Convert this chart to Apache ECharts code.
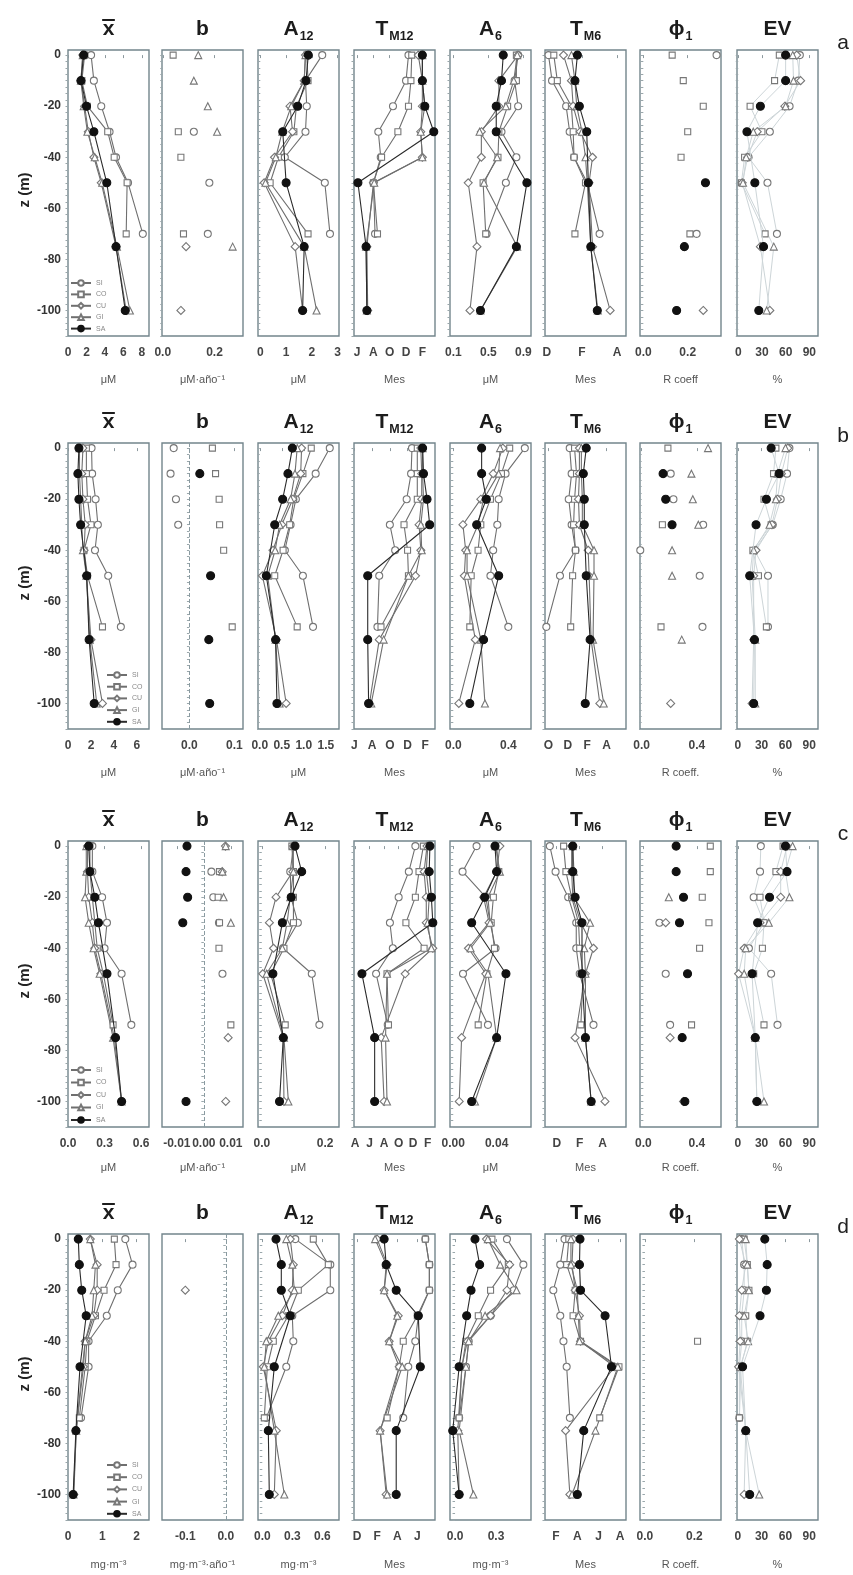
<!DOCTYPE html>
<html><head><meta charset="utf-8">
<script src="https://cdn.jsdelivr.net/npm/echarts@6/dist/echarts.min.js"></script>
<style>html,body{margin:0;padding:0;background:#fff}#c{width:853px;height:1575px}</style>
</head><body><div id="c"></div>
<script>
// ---------------- DATA ----------------
const STATIONS = ['SI','CO','CU','GI','SA'];
const DEPTH = {
  SI:[0,-10,-20,-30,-40,-50,-70],
  CO:[0,-10,-20,-30,-40,-50,-70],
  CU:[0,-10,-20,-30,-40,-50,-75,-100],
  GI:[0,-10,-20,-30,-40,-50,-75,-100],
  SA:[0,-10,-20,-30,-50,-75,-100]
};
const N = null;
// Row a
const a_xbar = {SI:[2.5,2.8,3.6,4.5,5.2,6.5,8.1], CO:[1.8,1.5,2.1,4.3,5.0,6.4,6.3], CU:[1.6,1.4,1.8,2.2,2.8,3.6,5.2,6.3], GI:[1.6,1.4,1.7,2.1,2.9,3.7,5.3,6.7], SA:[1.7,1.4,2.0,2.8,4.2,5.2,6.2]};
const a_b = {SI:[N,N,N,0.12,N,0.18,0.174], CO:[0.04,N,N,0.06,0.07,N,0.08], CU:[N,N,N,N,N,N,0.09,0.07], GI:[0.137,0.12,0.174,0.21,N,N,0.27,N], SA:[N,N,N,N,N,N,N]};
const a_A12 = {SI:[2.4,1.75,1.8,1.75,0.95,2.5,2.7], CO:[1.8,1.85,1.4,1.3,0.7,0.38,1.85], CU:[1.75,1.7,1.15,1.25,0.55,0.15,1.35,1.64], GI:[1.75,1.7,1.2,0.85,0.6,0.2,1.7,2.18], SA:[1.86,1.77,1.45,0.87,1.0,1.7,1.64]};
const a_TM12 = {SI:[12.3,12,10.4,8.6,8.9,8,8.2], CO:[12.7,12.6,12.3,11,9,8,8.5], CU:[13.5,14,14,13.8,14,8,7.2,7.3], GI:[14,14,14.3,13.8,14,8.1,7.1,7.2], SA:[14,14,14.3,15.4,6.1,7.1,7.2]};
const a_A6 = {SI:[0.84,0.8,0.84,0.65,0.82,0.7,0.48], CO:[0.82,0.82,0.72,0.62,0.61,0.44,0.47], CU:[0.84,0.62,0.62,0.42,0.42,0.27,0.37,0.29], GI:[0.83,0.79,0.7,0.4,0.6,0.45,0.83,0.41], SA:[0.67,0.65,0.59,0.59,0.94,0.82,0.41]};
const a_TM6 = {SI:[12.1,12.3,13.1,13.3,13.55,14.3,15.0], CO:[12.4,12.6,13.4,13.5,13.55,14.2,13.6], CU:[12.95,13.4,13.5,13.9,14.6,14.4,14.6,15.6], GI:[13.4,13.6,13.7,14.0,14.2,14.3,14.5,14.9], SA:[13.74,13.6,13.85,14.27,14.36,14.5,14.87]};
const a_phi = {SI:[0.33,N,N,N,N,N,0.24], CO:[0.13,0.18,0.27,0.2,0.17,N,0.21], CU:[N,N,N,N,N,N,N,0.27], GI:[N,N,N,N,N,N,N,N], SA:[N,N,N,N,0.28,0.185,0.15]};
const a_EV = {SI:[78,76,65,40,13,37,49], CO:[52,46,15,30,8,4,34], CU:[74,79,59,24,12,5,28,40], GI:[69,70,60,19,10,6,45,36], SA:[60,60,28,11,21,32,26]};
// Row b
const b_xbar = {SI:[2.05,2.1,2.4,2.6,2.35,3.5,4.6], CO:[1.6,1.6,1.7,2.0,1.4,1.7,3.0], CU:[1.3,1.2,1.3,1.5,1.4,1.6,2.0,3.0], GI:[1.0,1.0,1.1,1.2,1.3,1.6,1.9,2.5], SA:[0.95,0.86,0.95,1.1,1.63,1.84,2.28]};
const b_b = {SI:[-0.035,-0.042,-0.03,-0.025,N,N,N], CO:[0.051,0.058,0.066,0.067,0.076,N,0.095], CU:[N,N,N,N,N,N,N,N], GI:[N,N,N,N,N,N,N,N], SA:[N,0.023,N,N,0.047,0.043,0.045]};
const b_A12 = {SI:[1.59,1.27,0.82,0.7,0.57,0.98,1.21], CO:[1.17,0.98,0.77,0.68,0.53,0.34,0.85], CU:[0.95,0.93,0.75,0.5,0.3,0.06,0.38,0.6], GI:[0.85,0.8,0.7,0.45,0.35,0.18,0.36,0.45], SA:[0.74,0.64,0.52,0.34,0.15,0.36,0.39]};
const b_TM12 = {SI:[12.5,12.4,11.9,10,10.6,8.8,8.6], CO:[13.1,13.1,13.1,11.6,12.0,12.1,9.0], CU:[13.5,13.6,13.6,13.3,13.5,12.9,8.8,7.7], GI:[13.7,13.7,13.8,13.5,13.6,12.1,9.3,7.9], SA:[13.7,13.8,14.2,14.5,7.5,7.5,7.6]};
const b_A6 = {SI:[0.52,0.38,0.33,0.32,0.29,0.27,0.4], CO:[0.41,0.35,0.27,0.2,0.18,0.13,0.12], CU:[0.36,0.29,0.2,0.07,0.09,0.08,0.16,0.04], GI:[0.34,0.33,0.22,0.18,0.1,0.1,0.2,0.23], SA:[0.206,0.206,0.24,0.17,0.33,0.22,0.12]};
const b_TM6 = {SI:[12.2,12.4,12.1,12.4,12.8,11.2,9.8], CO:[12.7,12.9,12.7,12.6,12.8,12.5,12.3], CU:[13.2,13.2,13.1,13.2,14.1,14.2,14.4,15.3], GI:[13.4,13.4,13.5,13.5,14.7,14.7,14.6,15.7], SA:[13.9,13.6,13.7,13.7,13.9,14.3,13.8]};
const b_phi = {SI:[N,0.21,0.23,0.445,-0.01,0.42,0.44], CO:[0.19,N,N,0.15,N,N,0.14], CU:[N,N,N,N,N,N,N,0.21], GI:[0.48,0.36,0.37,0.41,0.22,0.22,0.29,N], SA:[N,0.155,0.174,0.22,N,N,N]};
const b_EV = {SI:[65,62,54,44,21,38,38], CO:[48,45,33,42,19,26,36], CU:[63,55,50,43,23,20,20,18], GI:[60,50,48,40,20,18,22,22], SA:[42,52,36,23,15,21,20]};
// Row c
const c_xbar = {SI:[0.2,0.2,0.28,0.32,0.3,0.44,0.52], CO:[0.18,0.18,0.2,0.22,0.24,0.29,0.37], CU:[0.16,0.16,0.17,0.2,0.22,0.27,0.38,0.44], GI:[0.15,0.15,0.14,0.17,0.21,0.26,0.37,0.44], SA:[0.17,0.18,0.22,0.25,0.32,0.39,0.44]};
const c_b = {SI:[N,0.0028,0.0035,0.0056,N,0.0069,N], CO:[N,0.0058,0.0053,0.0058,0.0056,N,0.01], CU:[0.008,0.0068,N,N,N,N,0.009,0.0081], GI:[0.0081,0.0069,0.0073,0.01,N,N,N,N], SA:[-0.00625,-0.0066,-0.006,-0.0078,N,N,-0.0066]};
const c_A12 = {SI:[0.1,0.09,0.092,0.114,0.067,0.158,0.182], CO:[0.095,0.1,0.1,0.1,0.07,0.028,0.074], CU:[0.1,0.098,0.045,0.024,0.037,0.003,0.068,0.07], GI:[0.098,0.1,0.09,0.08,0.065,0.015,0.07,0.084], SA:[0.105,0.126,0.093,0.065,0.035,0.068,0.056]};
const c_TM12 = {SI:[12.3,11.4,10,8.8,9.2,6.9,8.5], CO:[13.4,12.8,12.3,11,13.5,8.4,8.6], CU:[13.9,13.5,13.8,13.8,14.7,10.9,7.6,8.0], GI:[14.0,13.8,14.2,14.0,14.5,8.4,8.2,8.4], SA:[14.3,14.2,14.5,14.7,4.95,6.7,6.7]};
const c_A6 = {SI:[0.0215,0.0086,0.03,0.034,0.039,0.009,0.032], CO:[0.04,0.042,0.037,0.035,0.038,0.031,0.023], CU:[0.043,0.04,0.028,0.033,0.014,0.03,0.0077,0.0055], GI:[0.039,0.043,0.032,0.034,0.016,0.032,0.04,0.02], SA:[0.0385,0.04,0.029,0.017,0.0486,0.04,0.017]};
const c_TM6 = {SI:[11.4,11.9,13.0,13.7,13.7,14.0,15.2], CO:[12.6,12.8,13.3,13.9,14.0,14.3,14.1], CU:[13.3,13.3,13.4,14.1,15.2,14.5,13.6,16.2], GI:[13.4,13.5,13.5,14.9,14.4,14.5,14.5,15.0], SA:[13.4,13.4,13.6,14.2,14.2,14.5,15.0]};
const c_phi = {SI:[N,N,N,0.12,N,0.167,0.2], CO:[0.5,0.5,0.44,0.49,0.42,N,0.36], CU:[N,N,N,0.167,N,N,0.2,0.3], GI:[N,N,0.19,N,N,N,N,N], SA:[0.245,0.245,0.3,0.27,0.33,0.29,0.31]};
const c_EV = {SI:[29,28,20,33,14,42,50], CO:[57,48,28,33,31,20,33], CU:[62,54,54,28,8,1,22,24], GI:[69,60,65,39,10,8,22,33], SA:[60,62,40,25,18,22,24]};
// Row d
const d_xbar = {SI:[1.67,1.88,1.45,1.13,0.6,0.6,0.38], CO:[1.35,1.4,1.05,0.8,0.55,0.5,0.33], CU:[0.65,0.85,0.85,0.75,0.5,0.45,0.24,0.17], GI:[0.65,0.8,0.75,0.7,0.5,0.42,0.24,0.16], SA:[0.3,0.33,0.4,0.53,0.35,0.23,0.15]};
const d_b = {SI:[N,N,N,N,N,N,N], CO:[N,N,N,N,N,N,N], CU:[N,N,-0.1,N,N,N,N,N], GI:[N,N,N,N,N,N,N,N], SA:[N,N,N,N,N,N,N]};
const d_A12 = {SI:[0.33,0.68,0.68,0.3,0.31,0.24,0.04], CO:[0.51,0.66,0.36,0.26,0.11,0.05,0.02], CU:[0.28,0.31,0.3,0.2,0.06,0.01,0.14,0.12], GI:[0.24,0.3,0.32,0.16,0.04,0.02,0.12,0.22], SA:[0.137,0.19,0.19,0.28,0.12,0.06,0.07]};
const d_TM12 = {SI:[18.8,19.2,19.2,18.1,17.8,17.1,16.6], CO:[18.8,19.2,19.2,18.0,16.6,16.2,15.0], CU:[14.0,15.0,14.7,16.1,15.2,16.2,14.3,14.9], GI:[13.8,14.9,14.7,16.0,15.2,16.5,14.3,15.0], SA:[14.7,14.9,15.9,18.1,18.3,15.9,15.9]};
const d_A6 = {SI:[0.38,0.5,0.43,0.26,0.1,0.08,0.03], CO:[0.27,0.39,0.26,0.17,0.08,0.05,0.03], CU:[0.23,0.4,0.38,0.26,0.09,0.05,0.02,0.03], GI:[0.24,0.33,0.45,0.22,0.1,0.08,0.03,0.134], SA:[0.146,0.18,0.117,0.085,0.03,-0.017,0.03]};
const d_TM6 = {SI:[14.8,14.4,13.75,14.4,14.7,15.0,15.3], CO:[15.2,15.0,15.8,15.6,16.3,19.9,18.1], CU:[15.6,15.5,15.8,16.2,16.3,19.5,14.9,15.3], GI:[15.4,15.4,16.0,16.1,16.2,19.8,17.7,15.5], SA:[16.25,16.2,16.3,18.6,19.2,16.6,16.0]};
const d_phi = {SI:[N,N,N,N,N,N,N], CO:[N,N,N,N,0.213,N,N], CU:[N,N,N,N,N,N,N,N], GI:[N,N,N,N,N,N,N,N], SA:[N,N,N,N,N,N,N]};
const d_EV = {SI:[5,8,8,5,5,2,2], CO:[8,12,14,10,12,4,2], CU:[2,10,5,2,3,1,10,8], GI:[10,12,14,8,13,3,10,27], SA:[34,37,36,28,6,10,15]};

// Axis ranges / ticks / tick labels per row (panel order: x̄, b, A12, TM12, A6, TM6, ϕ1, EV)
const a_xmin = [0, -0.003, -0.09, 5.62, 0.062, 11.9, -0.015, -1.6];
const a_xmax = [8.77, 0.31, 3.05, 15.55, 0.987, 16.5, 0.35, 101];
const a_ticks = [[0,2,4,6,8],[0,0.2],[0,1,2,3],[6,8,10,12,14],[0.1,0.5,0.9],[12,14,16],[0,0.2],[0,30,60,90]];
const a_tickLabels = [['0','2','4','6','8'],['0.0','0.2'],['0','1','2','3'],['J','A','O','D','F'],['0.1','0.5','0.9'],['D','F','A'],['0.0','0.2'],['0','30','60','90']];
const a_units = ['μM','μM·año⁻¹','μM','Mes','μM','Mes','R coeff','%'];

const b_xmin = [0, -0.061, -0.04, 5.95, -0.024, 9.66, -0.012, -1];
const b_xmax = [7.05, 0.119, 1.8, 15.1, 0.565, 17.99, 0.574, 101];
const b_ticks = [[0,2,4,6],[0,0.1],[0,0.5,1,1.5],[6,8,10,12,14],[0,0.4],[10,12,14,16],[0,0.4],[0,30,60,90]];
const b_tickLabels = [['0','2','4','6'],['0.0','0.1'],['0.0','0.5','1.0','1.5'],['J','A','O','D','F'],['0.0','0.4'],['O','D','F','A'],['0.0','0.4'],['0','30','60','90']];
const b_units = ['μM','μM·año⁻¹','μM','Mes','μM','Mes','R coeff.','%'];

const c_xmin = [0, -0.0155, -0.012, 3.86, -0.003, 10.98, -0.025, -1];
const c_xmax = [0.665, 0.0145, 0.244, 15, 0.0717, 18.03, 0.58, 101];
const c_ticks = [[0,0.3,0.6],[-0.01,0,0.01],[0,0.2],[4,6,8,10,12,14],[0,0.04],[12,14,16],[0,0.4],[0,30,60,90]];
const c_tickLabels = [['0.0','0.3','0.6'],['-0.01','0.00','0.01'],['0.0','0.2'],['A','J','A','O','D','F'],['0.00','0.04'],['D','F','A'],['0.0','0.4'],['0','30','60','90']];
const c_units = ['μM','μM·año⁻¹','μM','Mes','μM','Mes','R coeff.','%'];

const d_xmin = [0, -0.1575, -0.043, 11.7, -0.037, 12.97, -0.02, -1];
const d_xmax = [2.36, 0.0425, 0.767, 19.76, 0.556, 20.56, 0.308, 101];
const d_ticks = [[0,1,2],[-0.1,0],[0,0.3,0.6],[12,14,16,18],[0,0.3],[14,16,18,20],[0,0.2],[0,30,60,90]];
const d_tickLabels = [['0','1','2'],['-0.1','0.0'],['0.0','0.3','0.6'],['D','F','A','J'],['0.0','0.3'],['F','A','J','A'],['0.0','0.2'],['0','30','60','90']];
const d_units = ['mg·m⁻³','mg·m⁻³·año⁻¹','mg·m⁻³','Mes','mg·m⁻³','Mes','R coeff.','%'];

const Y_LABELS = [0,-20,-40,-60,-80,-100];
const ROW_LETTERS = ['a','b','c','d'];
const TITLES = [['x',''],['b',''],['A','12'],['T','M12'],['A','6'],['T','M6'],['ϕ','1'],['EV','']];

// ---------------- LAYOUT ----------------
const FONT = '"Liberation Sans", Arial, Helvetica, sans-serif';
const ROW_TOP = [50, 443, 841, 1234];
const COL_LEFT = [68,162,258,354,450,545,640,737];
const GW = 81, GH = 286;
const NAME_GAP = [38, 38, 35, 39];
const LEGEND_POS = [[70,279,3.4],[106,671,3.7],[70,1066,4.5],[106,1461,4.2]];

const ROWS = [
  {data:[a_xbar,a_b,a_A12,a_TM12,a_A6,a_TM6,a_phi,a_EV], xmin:a_xmin, xmax:a_xmax, ticks:a_ticks, labels:a_tickLabels, units:a_units, zero:false},
  {data:[b_xbar,b_b,b_A12,b_TM12,b_A6,b_TM6,b_phi,b_EV], xmin:b_xmin, xmax:b_xmax, ticks:b_ticks, labels:b_tickLabels, units:b_units, zero:true},
  {data:[c_xbar,c_b,c_A12,c_TM12,c_A6,c_TM6,c_phi,c_EV], xmin:c_xmin, xmax:c_xmax, ticks:c_ticks, labels:c_tickLabels, units:c_units, zero:true},
  {data:[d_xbar,d_b,d_A12,d_TM12,d_A6,d_TM6,d_phi,d_EV], xmin:d_xmin, xmax:d_xmax, ticks:d_ticks, labels:d_tickLabels, units:d_units, zero:true}
];

const SYM = {SI:'circle', CO:'rect', CU:'diamond', GI:'triangle', SA:'circle'};
const SYMSIZE = {SI:7, CO:6, CU:8, GI:7, SA:8};

const yTickVals = []; for (let v = -110; v <= 0.001; v += 2.5) yTickVals.push(v);

const ctx = document.createElement('canvas').getContext('2d');
function tw(t, f){ ctx.font = f; return ctx.measureText(t).width; }

const grid = [], xAxis = [], yAxis = [], series = [], graphic = [];

ROWS.forEach((row, r) => {
  const top = ROW_TOP[r];
  for (let p = 0; p < 8; p++) {
    const gi = r*8 + p;
    grid.push({left: COL_LEFT[p], top: top, width: GW, height: GH, show: true,
      borderColor: '#73858c', borderWidth: 1.4, backgroundColor: 'rgba(0,0,0,0)'});
    const ticks = row.ticks[p], labs = row.labels[p];
    xAxis.push({type: 'value', gridIndex: gi, min: row.xmin[p], max: row.xmax[p], position: 'bottom',
      axisLine: {show: false}, splitLine: {show: false},
      axisTick: {show: true, customValues: ticks, length: 3, lineStyle: {color: '#8c999e'}},
      axisLabel: {customValues: ticks, hideOverlap: false, margin: 11, fontSize: 12, fontWeight: 'bold',
        color: '#444', fontFamily: FONT,
        formatter: (v) => { const i = ticks.findIndex(t => Math.abs(t - v) < 1e-9); return i >= 0 ? labs[i] : ''; }},
      name: row.units[p], nameLocation: 'middle', nameGap: NAME_GAP[r],
      nameTextStyle: {fontSize: 11, color: '#555', fontFamily: FONT}
    });
    yAxis.push({type: 'value', gridIndex: gi, min: -110, max: 2,
      axisLine: {show: false}, splitLine: {show: false},
      axisTick: {show: true, customValues: yTickVals, length: 2.5, lineStyle: {color: '#9aa7ab'}},
      axisLabel: {show: p === 0, customValues: Y_LABELS, margin: 7, fontSize: 12, fontWeight: 'bold',
        color: '#333', fontFamily: FONT}
    });
    const scatter = (p === 1 || p === 6);
    const ev = (p === 7);
    STATIONS.forEach(st => {
      const vals = row.data[p][st], dep = DEPTH[st];
      const pts = [];
      vals.forEach((v, i) => { if (v !== null && v !== undefined) pts.push([v, dep[i]]); });
      const isSA = st === 'SA';
      const s = {name: st, type: scatter ? 'scatter' : 'line', xAxisIndex: gi, yAxisIndex: gi, data: pts,
        symbol: SYM[st], symbolSize: SYMSIZE[st], silent: true, animation: false,
        emphasis: {disabled: true},
        itemStyle: {color: isSA ? '#111' : '#fff', borderColor: isSA ? '#111' : '#777', borderWidth: 1.1, opacity: 1},
        z: isSA ? 5 : 3};
      if (!scatter) {
        s.showSymbol = true;
        s.lineStyle = {color: ev ? '#cdd5d8' : (isSA ? '#2b2b2b' : '#6f6f6f'), width: ev ? 1 : 1.1};
      }
      series.push(s);
    });
    if (p === 1 && row.zero) {
      series.push({type: 'line', name: '', xAxisIndex: gi, yAxisIndex: gi, data: [], silent: true, animation: false,
        markLine: {silent: true, symbol: ['none','none'], label: {show: false},
          lineStyle: {type: 'dashed', color: '#8a9ba1', width: 1}, data: [{xAxis: 0}]}});
    }
    // Panel title
    const cx = COL_LEFT[p] + GW/2;
    const [m, sub] = TITLES[p];
    const fm = 'bold 21px ' + FONT, fs = 'bold 12.5px ' + FONT;
    const wm = tw(m, fm), ws = sub ? tw(sub, fs) + 1 : 0;
    const x0 = cx - (wm + ws)/2;
    graphic.push({type: 'text', x: x0, y: top - 21, silent: true,
      style: {text: m, font: fm, fill: '#1c1c1c', align: 'left', verticalAlign: 'middle', textAlign: 'left', textVerticalAlign: 'middle'}});
    if (sub) graphic.push({type: 'text', x: x0 + wm + 1, y: top - 13, silent: true,
      style: {text: sub, font: fs, fill: '#1c1c1c', align: 'left', verticalAlign: 'middle', textAlign: 'left', textVerticalAlign: 'middle'}});
    if (p === 0) {
      graphic.push({type: 'line', silent: true, shape: {x1: x0 - 0.5, y1: top - 30, x2: x0 + wm + 0.5, y2: top - 30},
        style: {stroke: '#1c1c1c', lineWidth: 2}});
    }
  }
  graphic.push({type: 'text', x: 843, y: top - 7, silent: true,
    style: {text: ROW_LETTERS[r], font: '21px ' + FONT, fill: '#222', align: 'center', verticalAlign: 'middle', textAlign: 'center', textVerticalAlign: 'middle'}});
  graphic.push({type: 'text', x: 25, y: top + 140, rotation: Math.PI/2, silent: true,
    style: {text: 'z (m)', font: 'bold 15px ' + FONT, fill: '#222', align: 'center', verticalAlign: 'middle', textAlign: 'center', textVerticalAlign: 'middle'}});
});

const legend = LEGEND_POS.map(([l, t, g]) => ({
  data: STATIONS, orient: 'vertical', left: l, top: t, padding: 0, itemGap: g,
  itemWidth: 20, itemHeight: 7, selectedMode: false,
  textStyle: {fontSize: 7, color: '#888', fontFamily: FONT, lineHeight: 8}
}));

const chart = echarts.init(document.getElementById('c'), null, {renderer: 'canvas'});
chart.setOption({animation: false, backgroundColor: '#fff', grid, xAxis, yAxis, series, legend, graphic});
</script></body></html>
